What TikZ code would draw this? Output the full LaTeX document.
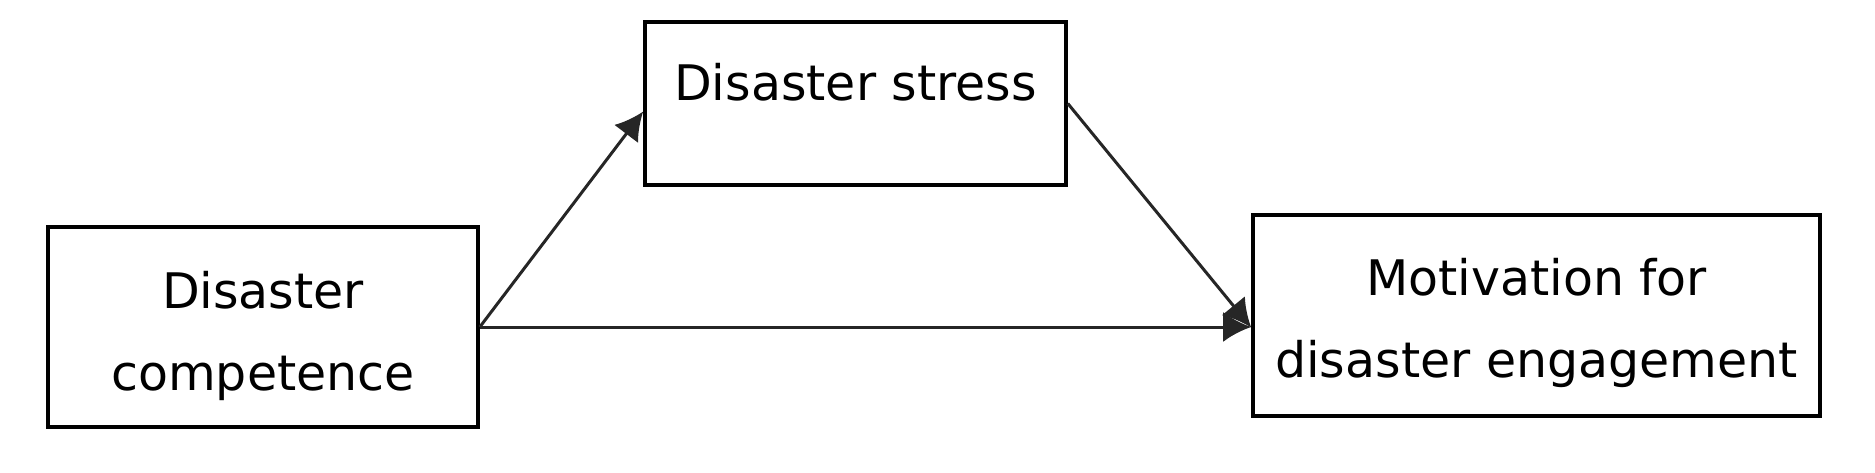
\documentclass[tikz,border=0pt]{standalone}
\usepackage{fontspec}
\setmainfont{DejaVu Sans}
\usetikzlibrary{arrows.meta}
\begin{document}
\begin{tikzpicture}[x=1pt,y=-1pt,
  box/.style={draw=black, line width=3.6pt, inner sep=0pt},
  lbl/.style={inner sep=0pt, anchor=north, align=center, font=\fontsize{49}{82}\selectfont},
  conn/.style={draw=black!85, line width=3pt, -{Latex[length=28pt,width=30pt]}}]
\useasboundingbox (0,0) rectangle (1875,473);
% boxes
\node[box, minimum width=430pt, minimum height=200pt] (b1) at (263,327) {};
\node[box, minimum width=421pt, minimum height=163pt] (b2) at (855.5,103.5) {};
\node[box, minimum width=567pt, minimum height=201pt] (b3) at (1536.5,315.5) {};
% texts
\node[lbl] (t1) at (263,271) {Disaster\\competence};
\node[lbl] (t2) at (855.5,63) {Disaster stress};
\node[lbl] (t3) at (1536.5,258) {Motivation for\\disaster engagement};
% connectors
\draw[conn] (b1.east) -- ([yshift=-8pt]b2.west);
\draw[conn] (b2.east) -- ([yshift=-12pt]b3.west);
\draw[conn] (b1.east) -- (b1.east -| b3.west);
\end{tikzpicture}
\end{document}
